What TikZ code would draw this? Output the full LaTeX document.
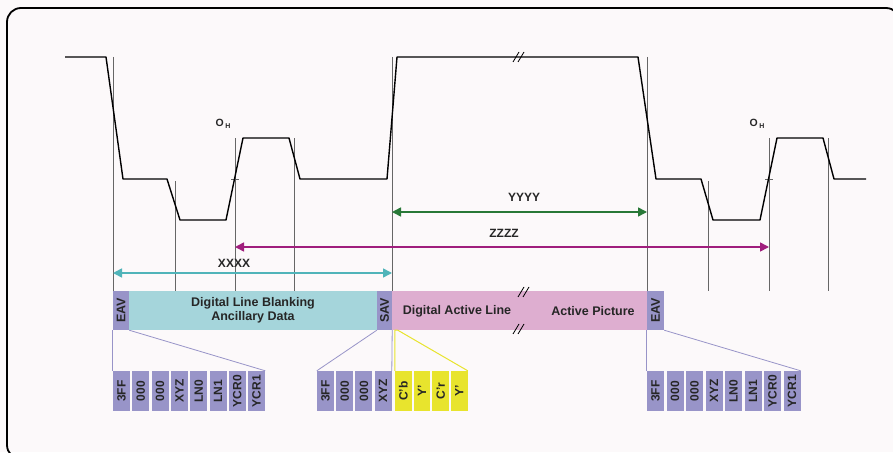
\documentclass[tikz,border=0pt]{standalone}
\usepackage{fontspec}
\setmainfont{Liberation Sans}
\usetikzlibrary{arrows.meta}
\definecolor{bgc}{RGB}{252,249,250}
\definecolor{eavc}{RGB}{152,148,200}
\definecolor{blankc}{RGB}{165,213,219}
\definecolor{actc}{RGB}{222,174,208}
\definecolor{yelc}{RGB}{232,228,45}
\definecolor{grnc}{RGB}{40,120,55}
\definecolor{magc}{RGB}{160,30,125}
\definecolor{tealc}{RGB}{80,180,185}
\tikzset{
  wave/.style={line width=1.4pt, line join=round},
  guide/.style={draw=black!60, line width=0.55pt},
  plink/.style={draw=eavc, line width=0.8pt},
  ylink/.style={draw=yelc, line width=1pt},
  seg/.style={fill=eavc, draw=none, inner sep=0pt, minimum width=17pt, minimum height=40pt,
    font=\bfseries\fontsize{12}{12}\selectfont, text=black!85},
  yseg/.style={seg, fill=yelc, minimum width=16.5pt},
  band/.style={draw=none, inner sep=0pt, minimum height=39pt,
    font=\bfseries\fontsize{12.5}{14}\selectfont, text=black!85},
  dim/.style={line width=1.6pt, {Triangle[length=9pt,width=9pt]}-{Triangle[length=9pt,width=9pt]}},
  dimlab/.style={font=\bfseries\fontsize{12}{12}\selectfont, text=black!85, inner sep=0pt},
  ohlab/.style={font=\bfseries\fontsize{10.5}{10.5}\selectfont, text=black!85, inner sep=0pt},
  brk/.style={line width=0.8pt, black}
}
\begin{document}
\begin{tikzpicture}[x=1pt,y=-1pt]
\useasboundingbox (0,0) rectangle (893,452);
\fill[bgc] (0,0) rectangle (893,452);
\begin{scope}
\clip (0,0) rectangle (893,452);
\draw[line width=1.8pt, rounded corners=14pt] (7,8) rectangle (900,459);
\end{scope}

% guide lines
\draw[guide] (113,57) -- (113,291);
\draw[guide] (175,181) -- (175,291);
\draw[guide] (235,138) -- (235,291);
\draw[guide] (294,138) -- (294,291);
\draw[guide] (392,57) -- (392,291);
\draw[guide] (647,57) -- (647,291);
\draw[guide] (708,181) -- (708,291);
\draw[guide] (769,138) -- (769,291);
\draw[guide] (828,138) -- (828,291);
\draw[guide] (231,179) -- (239,179);
\draw[guide] (765,179) -- (773,179);

% waveform
\draw[wave] (65,57) -- (106,57) -- (123,179) -- (167,179) -- (180,220) -- (226,220)
  -- (243,138) -- (289,138) -- (300,179) -- (387,179) -- (397,57) -- (638,57)
  -- (656,179) -- (701,179) -- (713,220) -- (760,220) -- (777,138) -- (823,138)
  -- (834,179) -- (866,179);
\draw[brk] (513,62) -- (519,52);
\draw[brk] (518,62) -- (524,52);

% O_H labels
\node[ohlab] (oh1) at (223,124) {O\,\raisebox{-2.5pt}{\fontsize{7}{7}\selectfont H}};
\node[ohlab] (oh2) at (757,124) {O\,\raisebox{-2.5pt}{\fontsize{7}{7}\selectfont H}};

% dimension arrows
\coordinate (ya) at (392,212); \coordinate (yb) at (647,212);
\draw[dim, grnc] (ya) -- (yb);
\node[dimlab] (ylab) at (524,197) {YYYY};
\coordinate (za) at (235,247); \coordinate (zb) at (769,247);
\draw[dim, magc] (za) -- (zb);
\node[dimlab] (zlab) at (504,233) {ZZZZ};
\coordinate (xa) at (113,273); \coordinate (xb) at (392,273);
\draw[dim, tealc] (xa) -- (xb);
\node[dimlab] (xlab) at (234,263) {XXXX};

% upper band
\node[band, fill=eavc, minimum width=16pt] (E1) at (121,310.5) {\rotatebox{90}{EAV}};
\node[band, fill=blankc, minimum width=248pt, align=center] (B) at (253,310.5) {Digital Line Blanking\\Ancillary Data};
\node[band, fill=eavc, minimum width=15pt] (S) at (384.5,310.5) {\rotatebox{90}{SAV}};
\node[band, fill=actc, minimum width=255pt] (A) at (519.5,310.5) {};
\node[band, minimum height=0pt] (A1) at (457,311) {Digital Active Line};
\node[band, minimum height=0pt] (A2) at (593,311) {Active Picture};
\node[band, fill=eavc, minimum width=17pt] (E2) at (655.5,310.5) {\rotatebox{90}{EAV}};
\draw[brk] (518,297) -- (524,287);
\draw[brk] (523,297) -- (529,287);
\draw[brk] (513,334) -- (519,324);
\draw[brk] (518,334) -- (524,324);

% lower segments
\foreach \t [count=\i from 0] in {3FF,000,000,XYZ,LN0,LN1,YCR0,YCR1}
  \node[seg] (L\i) at ({121.5+19.3*\i},391) {\rotatebox{90}{\t}};
\foreach \t [count=\i from 0] in {3FF,000,000,XYZ}
  \node[seg] (M\i) at ({325.5+19.2*\i},391) {\rotatebox{90}{\t}};
\foreach \t [count=\i from 0] in {C'b,Y',C'r,Y'}
  \node[yseg] (Y\i) at ({403.25+18.7*\i},391) {\rotatebox{90}{\t}};
\foreach \t [count=\i from 0] in {3FF,000,000,XYZ,LN0,LN1,YCR0,YCR1}
  \node[seg] (R\i) at ({655.5+19.5*\i},391) {\rotatebox{90}{\t}};

% links
\draw[plink] (E1.south west) -- (L0.north west);
\draw[plink] (E1.south east) -- (L7.north east);
\draw[plink] (S.south west) -- (M0.north west);
\draw[plink] (S.south east) -- (M3.north east);
\draw[ylink] (Y0.north west) -- (Y0.north west |- A.south) -- ([xshift=3pt]Y0.north west |- A.south) -- (Y3.north east);
\draw[plink] (E2.south west) -- (R0.north west);
\draw[plink] (E2.south east) -- (R7.north east);
\end{tikzpicture}
\end{document}
